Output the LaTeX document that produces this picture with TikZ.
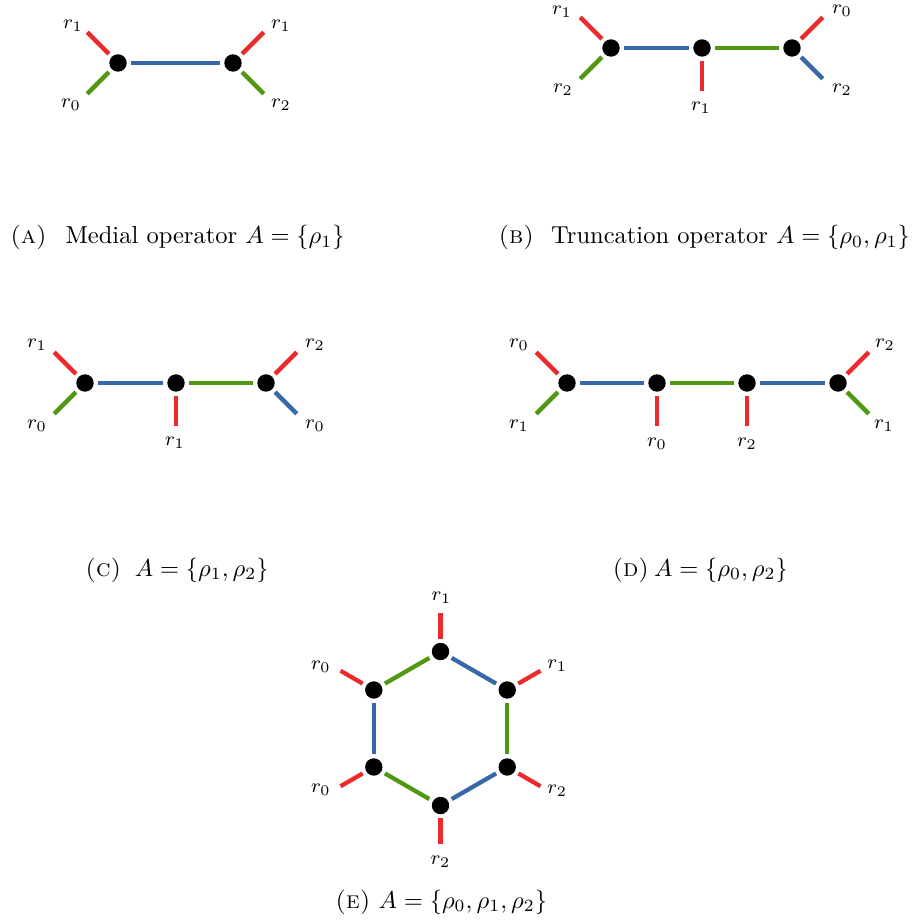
\documentclass[tikz,border=0pt]{standalone}
\usetikzlibrary{calc}
\definecolor{cred}{RGB}{236,42,46}
\definecolor{cblue}{RGB}{56,104,168}
\definecolor{cgreen}{RGB}{80,152,18}
\newcommand\myleaf[6]{%
  \path (#1) ++(#4) coordinate (#1#2);
  \draw[#3] (#1) -- (#1#2);
  \node[lab] (#1#2l) at ($(#1)+(#5)$) {$#6$};}
\begin{document}
\begin{tikzpicture}[x=0.408pt,y=-0.408pt,
  vtx/.style={circle,fill=black,inner sep=0pt,minimum size=7.1pt,outer sep=1.7pt},
  eb/.style={cblue,line width=1.75pt},
  eg/.style={cgreen,line width=1.75pt},
  er/.style={cred,line width=1.75pt},
  lab/.style={font=\footnotesize,inner sep=0pt},
  captxt/.style={anchor=base west,inner sep=0pt}]
\useasboundingbox (0,0) rectangle (912,922);
% (A)
\node[vtx] (a1) at (118,63) {};
\node[vtx] (a2) at (233,63) {};
\draw[eb] (a1) -- (a2);
\myleaf{a1}{u}{er}{-30.8,-30.8}{-45,-37.5}{r_1}
\myleaf{a1}{d}{eg}{-30.8,30.8}{-47,42}{r_0}
\myleaf{a2}{u}{er}{30.8,-30.8}{48,-37.5}{r_1}
\myleaf{a2}{d}{eg}{30.8,30.8}{48,42}{r_2}
\node[captxt] (capa) at (10,244) {\textsc{(a)}\hspace{7.6pt}Medial operator $A=\{\rho_1\}$};
% (B)
\node[vtx] (b1) at (611,48) {};
\node[vtx] (b2) at (702,48) {};
\node[vtx] (b3) at (792,48) {};
\draw[eb] (b1) -- (b2);
\draw[eg] (b2) -- (b3);
\myleaf{b1}{u}{er}{-30.8,-30.8}{-49,-36}{r_1}
\myleaf{b1}{d}{eg}{-30.8,30.8}{-48,42}{r_2}
\myleaf{b2}{d}{er}{0,43.5}{-1,60}{r_1}
\myleaf{b3}{u}{er}{30.8,-30.8}{50,-37.5}{r_0}
\myleaf{b3}{d}{eb}{30.8,30.8}{50,42}{r_2}
\node[captxt] (capb) at (498,244) {\textsc{(b)}\hspace{7pt}Truncation operator $A=\{\rho_0,\rho_1\}$};
% (C)
\node[vtx] (c1) at (85,383) {};
\node[vtx] (c2) at (176,383) {};
\node[vtx] (c3) at (266,383) {};
\draw[eb] (c1) -- (c2);
\draw[eg] (c2) -- (c3);
\myleaf{c1}{u}{er}{-30.8,-30.8}{-48,-38}{r_1}
\myleaf{c1}{d}{eg}{-30.8,30.8}{-48,43}{r_0}
\myleaf{c2}{d}{er}{0,43.5}{-1,60}{r_1}
\myleaf{c3}{u}{er}{30.8,-30.8}{49,-38}{r_2}
\myleaf{c3}{d}{eb}{30.8,30.8}{49,43}{r_0}
\node[captxt] (capc) at (85,576) {\textsc{(c)}\hspace{5.5pt}$A=\{\rho_1,\rho_2\}$};
% (D)
\node[vtx] (d1) at (567,383) {};
\node[vtx] (d2) at (657,383) {};
\node[vtx] (d3) at (747,383) {};
\node[vtx] (d4) at (838,383) {};
\draw[eb] (d1) -- (d2);
\draw[eg] (d2) -- (d3);
\draw[eb] (d3) -- (d4);
\myleaf{d1}{u}{er}{-30.8,-30.8}{-48,-38}{r_0}
\myleaf{d1}{d}{eg}{-30.8,30.8}{-48,43}{r_1}
\myleaf{d2}{d}{er}{0,43.5}{0,61}{r_0}
\myleaf{d3}{d}{er}{0,43.5}{0,61}{r_2}
\myleaf{d4}{u}{er}{30.8,-30.8}{47,-38}{r_2}
\myleaf{d4}{d}{eg}{30.8,30.8}{46,43}{r_1}
\node[captxt] (capd) at (612,576) {\textsc{(d)}\hspace{2pt}$A=\{\rho_0,\rho_2\}$};
% (E)
\node[vtx] (e1) at (440.5,651.5) {};
\node[vtx] (e2) at (373.8,690) {};
\node[vtx] (e3) at (373.8,767) {};
\node[vtx] (e4) at (440.5,805.5) {};
\node[vtx] (e5) at (507.2,767) {};
\node[vtx] (e6) at (507.2,690) {};
\draw[eg] (e1) -- (e2);
\draw[eb] (e2) -- (e3);
\draw[eg] (e3) -- (e4);
\draw[eb] (e4) -- (e5);
\draw[eg] (e5) -- (e6);
\draw[eb] (e6) -- (e1);
\myleaf{e1}{o}{er}{0,-38.5}{1,-53.5}{r_1}
\myleaf{e2}{o}{er}{-33.3,-19.25}{-53,-23}{r_0}
\myleaf{e3}{o}{er}{-33.3,19.25}{-53,23}{r_0}
\myleaf{e4}{o}{er}{0,38.5}{0,56}{r_2}
\myleaf{e5}{o}{er}{33.3,19.25}{50,24}{r_2}
\myleaf{e6}{o}{er}{33.3,-19.25}{50,-24}{r_1}
\node[captxt] (cape) at (335,908) {\textsc{(e)} $A=\{\rho_0,\rho_1,\rho_2\}$};
\end{tikzpicture}
\end{document}
